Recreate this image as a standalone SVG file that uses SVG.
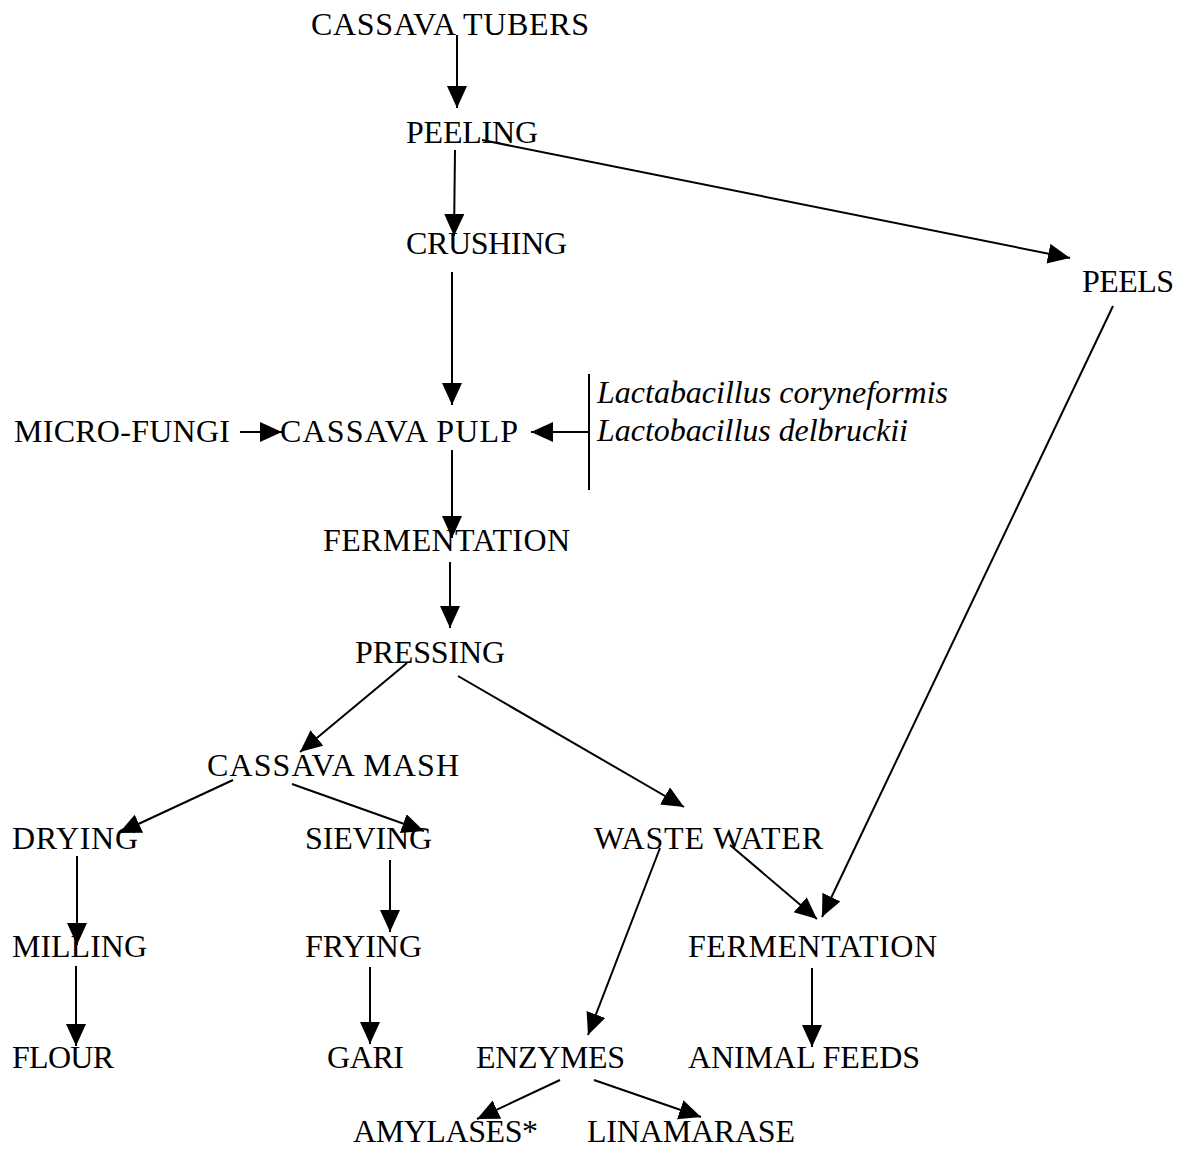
<svg xmlns="http://www.w3.org/2000/svg" width="1191" height="1149" viewBox="0 0 1191 1149">
<defs>
<marker id="ah" markerUnits="userSpaceOnUse" markerWidth="24" markerHeight="22" refX="22" refY="10" orient="auto">
<path d="M0,0 L22,10 L0,20 z" fill="#000"/>
</marker>
<style>
text{font-family:"Liberation Serif","Times New Roman",serif;font-size:32px;fill:#000}
.it{font-style:italic}
.c line{stroke:#000;stroke-width:2}
.c .a{marker-end:url(#ah)}
</style>
</defs>
<rect width="1191" height="1149" fill="#fff"/>
<g id="n-tubers"><text x="311" y="35" textLength="278">CASSAVA TUBERS</text></g>
<g id="n-peeling"><text x="406" y="143" textLength="132">PEELING</text></g>
<g id="n-crushing"><text x="406" y="254" textLength="161">CRUSHING</text></g>
<g id="n-peels"><text x="1082" y="292" textLength="92">PEELS</text></g>
<g id="n-microfungi"><text x="14" y="442" textLength="216">MICRO-FUNGI</text></g>
<g id="n-pulp"><text x="280" y="442" textLength="238">CASSAVA PULP</text></g>
<g id="n-lacto"><text class="it" x="597" y="403" textLength="351">Lactabacillus coryneformis</text><text class="it" x="597" y="441" textLength="311">Lactobacillus delbruckii</text></g>
<g id="n-ferm1"><text x="323" y="551" textLength="247">FERMENTATION</text></g>
<g id="n-pressing"><text x="355" y="663" textLength="150">PRESSING</text></g>
<g id="n-mash"><text x="207" y="776" textLength="252">CASSAVA MASH</text></g>
<g id="n-drying"><text x="12" y="849" textLength="126">DRYING</text></g>
<g id="n-sieving"><text x="305" y="849" textLength="127">SIEVING</text></g>
<g id="n-waste"><text x="594" y="849" textLength="229">WASTE WATER</text></g>
<g id="n-milling"><text x="12" y="957" textLength="135">MILLING</text></g>
<g id="n-frying"><text x="305" y="957" textLength="117">FRYING</text></g>
<g id="n-ferm2"><text x="688" y="957" textLength="249">FERMENTATION</text></g>
<g id="n-flour"><text x="12" y="1068" textLength="102">FLOUR</text></g>
<g id="n-gari"><text x="327" y="1068" textLength="77">GARI</text></g>
<g id="n-enzymes"><text x="476" y="1068" textLength="149">ENZYMES</text></g>
<g id="n-feeds"><text x="688" y="1068" textLength="232">ANIMAL FEEDS</text></g>
<g id="n-amylases"><text x="353" y="1142" textLength="185">AMYLASES*</text></g>
<g id="n-linamarase"><text x="587" y="1142" textLength="208">LINAMARASE</text></g>
<g id="connectors" class="c">
<line class="a" x1="457" y1="35" x2="457" y2="108"/>
<line class="a" x1="455" y1="150" x2="454" y2="236"/>
<line class="a" x1="482" y1="140" x2="1070" y2="258"/>
<line class="a" x1="452" y1="272" x2="452" y2="405"/>
<line class="a" x1="240" y1="432" x2="282" y2="432"/>
<line x1="589" y1="374" x2="589" y2="490"/>
<line class="a" x1="589" y1="432" x2="531" y2="432"/>
<line class="a" x1="452" y1="450" x2="452" y2="538"/>
<line class="a" x1="450" y1="562" x2="450" y2="628"/>
<line class="a" x1="407" y1="663" x2="300" y2="752"/>
<line class="a" x1="458" y1="676" x2="684" y2="807"/>
<line class="a" x1="233" y1="780" x2="119" y2="833"/>
<line class="a" x1="292" y1="784" x2="424" y2="831"/>
<line class="a" x1="77" y1="856" x2="77" y2="945"/>
<line class="a" x1="390" y1="860" x2="390" y2="932"/>
<line class="a" x1="660" y1="848" x2="588" y2="1035"/>
<line class="a" x1="730" y1="845" x2="817" y2="919"/>
<line class="a" x1="1113" y1="306" x2="822" y2="917"/>
<line class="a" x1="76" y1="966" x2="76" y2="1046"/>
<line class="a" x1="370" y1="967" x2="370" y2="1044"/>
<line class="a" x1="812" y1="968" x2="812" y2="1047"/>
<line class="a" x1="560" y1="1080" x2="477" y2="1119"/>
<line class="a" x1="594" y1="1080" x2="701" y2="1117"/>
</g>
</svg>
